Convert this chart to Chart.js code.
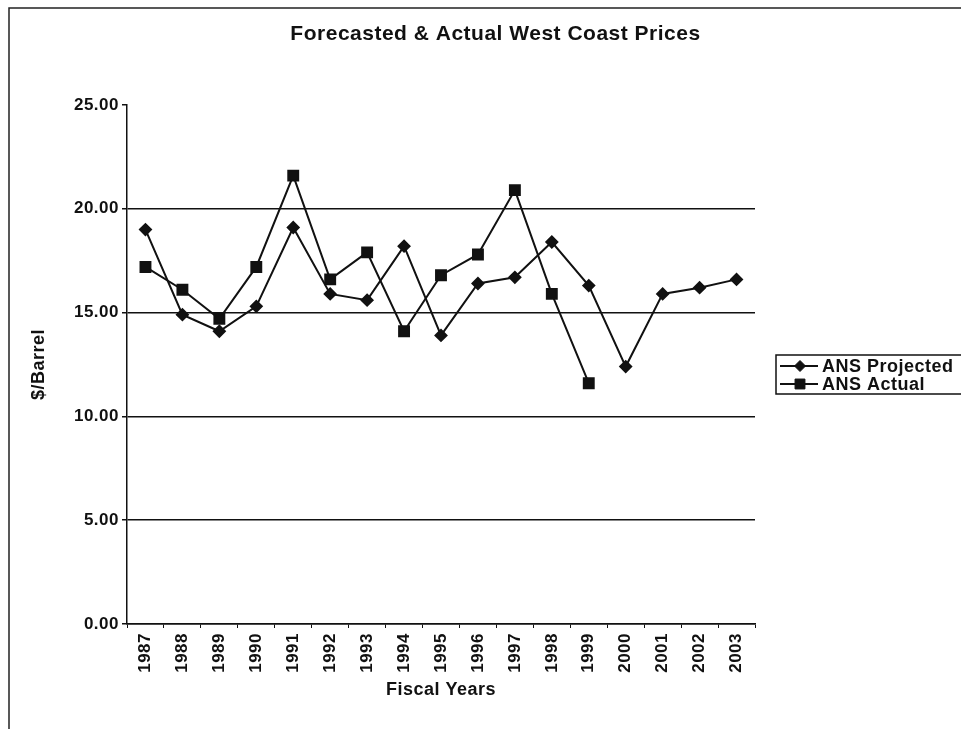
<!DOCTYPE html>
<html>
<head>
<meta charset="utf-8">
<title>Forecasted &amp; Actual West Coast Prices</title>
<script src="https://cdn.jsdelivr.net/npm/chart.js@4.4.1/dist/chart.umd.min.js"></script>
<style>
  html, body { margin: 0; padding: 0; background: #fff; }
  #wrap { position: relative; width: 961px; height: 729px; }
  canvas { display: block; }
</style>
</head>
<body>
<div id="wrap"><canvas id="chart" width="961" height="729"></canvas></div>
<script>
// Fiscal years on the category axis
const fiscalYears = ['1987', '1988', '1989', '1990', '1991', '1992', '1993', '1994', '1995',
                     '1996', '1997', '1998', '1999', '2000', '2001', '2002', '2003'];

// ANS West Coast price, $/barrel
const ansProjected = [19.0, 14.9, 14.1, 15.3, 19.1, 15.9, 15.6, 18.2, 13.9,
                      16.4, 16.7, 18.4, 16.3, 12.4, 15.9, 16.2, 16.6];
const ansActual = [17.2, 16.1, 14.7, 17.2, 21.6, 16.6, 17.9, 14.1, 16.8,
                   17.8, 20.9, 15.9, 11.6, null, null, null, null];

// Value axis ticks
const yTickValues = [0, 5, 10, 15, 20, 25];

const FONT = "'Liberation Sans', Arial, Helvetica, sans-serif";
const INK = '#111';
const TRACKING = '0.5px';

// Slightly tracked-out lettering for every label on the canvas
const trackingPlugin = {
  id: 'tracking',
  beforeUpdate(chart) { chart.ctx.letterSpacing = TRACKING; },
  beforeDraw(chart) { chart.ctx.letterSpacing = TRACKING; }
};

// Page frame and white background
const framePlugin = {
  id: 'frame',
  beforeDraw(chart) {
    const ctx = chart.ctx;
    ctx.save();
    ctx.fillStyle = '#fff';
    ctx.fillRect(0, 0, chart.width, chart.height);
    ctx.strokeStyle = '#222';
    ctx.lineWidth = 1.5;
    ctx.beginPath();
    ctx.moveTo(9, chart.height);
    ctx.lineTo(9, 8);
    ctx.lineTo(chart.width, 8);
    ctx.stroke();
    ctx.restore();
  }
};

// Boxed legend to the right of the plot: line sample with marker, then label
const boxLegendPlugin = {
  id: 'boxLegend',
  afterDraw(chart) {
    const ctx = chart.ctx;
    const left = 776, top = 355, bottom = 394;
    const rowY = [366, 384];
    ctx.save();
    ctx.strokeStyle = INK;
    ctx.lineWidth = 1.5;
    ctx.beginPath();
    ctx.moveTo(chart.width, top);
    ctx.lineTo(left, top);
    ctx.lineTo(left, bottom);
    ctx.lineTo(chart.width, bottom);
    ctx.stroke();
    chart.data.datasets.forEach((ds, i) => {
      const y = rowY[i];
      ctx.strokeStyle = ds.borderColor;
      ctx.lineWidth = ds.borderWidth;
      ctx.beginPath();
      ctx.moveTo(780, y);
      ctx.lineTo(818, y);
      ctx.stroke();
      ctx.fillStyle = ds.pointBackgroundColor;
      ctx.strokeStyle = ds.pointBorderColor;
      ctx.lineWidth = 1;
      Chart.helpers.drawPoint(ctx, {
        pointStyle: ds.pointStyle,
        radius: ds.pointRadius,
        borderWidth: 1,
        rotation: 0
      }, 800, y);
      ctx.fillStyle = INK;
      ctx.font = 'bold 18px ' + FONT;
      ctx.textAlign = 'left';
      ctx.textBaseline = 'middle';
      ctx.fillText(ds.label, 822, y + 1);
    });
    ctx.restore();
  }
};

new Chart(document.getElementById('chart'), {
  type: 'line',
  data: {
    labels: fiscalYears,
    datasets: [
      {
        label: 'ANS Projected',
        data: ansProjected,
        borderColor: INK,
        borderWidth: 2,
        pointStyle: 'rectRot',
        pointRadius: 5.5,
        pointBackgroundColor: INK,
        pointBorderColor: INK,
        tension: 0,
        fill: false
      },
      {
        label: 'ANS Actual',
        data: ansActual,
        borderColor: INK,
        borderWidth: 2,
        pointStyle: 'rect',
        pointRadius: 7,
        pointBackgroundColor: INK,
        pointBorderColor: INK,
        tension: 0,
        fill: false,
        spanGaps: false
      }
    ]
  },
  options: {
    responsive: false,
    animation: false,
    devicePixelRatio: 1,
    layout: { padding: { left: 30, right: 0, top: 0, bottom: 28 } },
    plugins: {
      legend: { display: false },
      tooltip: { enabled: false },
      title: {
        display: true,
        text: 'Forecasted & Actual West Coast Prices',
        color: INK,
        font: { family: FONT, size: 21, weight: 'bold', lineHeight: 1.2 },
        padding: { top: 21.4, bottom: 58.4 }
      }
    },
    scales: {
      x: {
        type: 'category',
        offset: true,
        border: { display: true, color: INK, width: 1.5 },
        grid: {
          display: true,
          offset: true,
          drawOnChartArea: false,
          drawTicks: true,
          tickLength: 4,
          color: INK,
          lineWidth: 1
        },
        ticks: {
          color: INK,
          font: { family: FONT, size: 17, weight: 'bold' },
          minRotation: 90,
          maxRotation: 90,
          autoSkip: false,
          padding: 5
        },
        title: {
          display: true,
          text: 'Fiscal Years',
          color: INK,
          font: { family: FONT, size: 18, weight: 'bold', lineHeight: 1.2 },
          padding: { top: 0, bottom: 0 }
        },
        afterFit(scale) { scale.height = 77; }
      },
      y: {
        min: 0,
        max: 25,
        border: { display: true, color: INK, width: 1.5 },
        grid: {
          display: true,
          drawTicks: true,
          tickLength: 5,
          lineWidth: 1.5,
          color: ctx => (ctx.tick && ctx.tick.value === 25) ? 'rgba(0,0,0,0)' : INK,
          tickColor: INK
        },
        afterBuildTicks(scale) {
          scale.ticks = yTickValues.map(v => ({ value: v }));
        },
        ticks: {
          color: INK,
          font: { family: FONT, size: 17, weight: 'bold' },
          padding: 3,
          callback: v => Number(v).toFixed(2)
        },
        title: {
          display: true,
          text: '$/Barrel',
          color: INK,
          font: { family: FONT, size: 18, weight: 'bold', lineHeight: 1 },
          padding: { top: 0, bottom: 0 }
        },
        afterFit(scale) { scale.width = 97; }
      },
      // empty right-hand band that holds the legend box
      legendBand: {
        type: 'linear',
        position: 'right',
        min: 0,
        max: 25,
        display: true,
        border: { display: false },
        grid: { display: false, drawOnChartArea: false, drawTicks: false },
        ticks: { display: false },
        afterFit(scale) { scale.width = 206; }
      }
    }
  },
  plugins: [trackingPlugin, framePlugin, boxLegendPlugin]
});
</script>
</body>
</html>
